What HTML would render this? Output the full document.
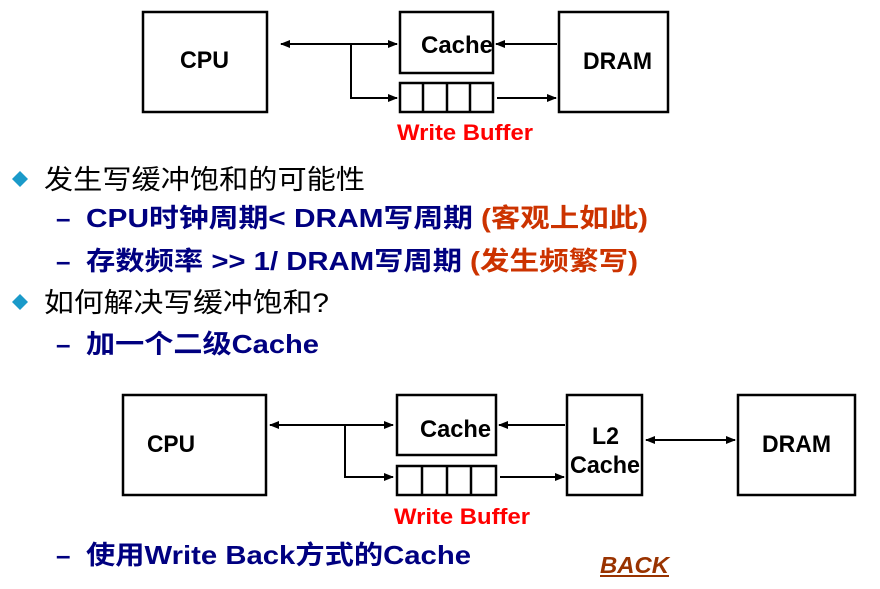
<!DOCTYPE html>
<html><head><meta charset="utf-8"><style>
html,body{margin:0;padding:0;background:#fff;}
svg{display:block;}
text{font-family:"Liberation Sans","Noto Sans CJK SC",sans-serif;}
</style></head><body>
<svg width="880" height="589" viewBox="0 0 880 589" xmlns="http://www.w3.org/2000/svg">
<defs>
<marker id="a" markerWidth="10" markerHeight="8" refX="9" refY="4" orient="auto-start-reverse" markerUnits="userSpaceOnUse">
<path d="M0,0 L10,4 L0,8 Z" fill="#000"/></marker>
</defs>
<g fill="none" stroke="#000" stroke-width="2.5">
<rect x="143" y="12" width="124" height="100"/>
<rect x="400" y="12" width="93" height="61"/>
<rect x="400" y="83" width="93" height="29"/>
<line x1="423" y1="83" x2="423" y2="112"/><line x1="447" y1="83" x2="447" y2="112"/><line x1="470" y1="83" x2="470" y2="112"/>
<rect x="559" y="12" width="109" height="100"/>
<line x1="281" y1="44" x2="397" y2="44" marker-start="url(#a)" marker-end="url(#a)" stroke-width="2"/>
<polyline points="351,44 351,98 397,98" marker-end="url(#a)" stroke-width="2"/>
<line x1="557" y1="44" x2="496" y2="44" marker-end="url(#a)" stroke-width="2"/>
<line x1="497" y1="98" x2="556" y2="98" marker-end="url(#a)" stroke-width="2"/>
<rect x="123" y="395" width="143" height="100"/>
<rect x="397" y="395" width="99" height="60"/>
<rect x="397" y="466" width="99" height="29"/>
<line x1="422" y1="466" x2="422" y2="495"/><line x1="447" y1="466" x2="447" y2="495"/><line x1="471" y1="466" x2="471" y2="495"/>
<rect x="567" y="395" width="75" height="100"/>
<rect x="738" y="395" width="117" height="100"/>
<line x1="270" y1="425" x2="393" y2="425" marker-start="url(#a)" marker-end="url(#a)" stroke-width="2"/>
<polyline points="345,425 345,477 393,477" marker-end="url(#a)" stroke-width="2"/>
<line x1="565" y1="425" x2="499" y2="425" marker-end="url(#a)" stroke-width="2"/>
<line x1="500" y1="477" x2="564" y2="477" marker-end="url(#a)" stroke-width="2"/>
<line x1="646" y1="440" x2="735" y2="440" marker-start="url(#a)" marker-end="url(#a)" stroke-width="2"/>
</g>
<g font-weight="bold" font-size="24" fill="#000" lengthAdjust="spacingAndGlyphs">
<text x="180" y="68" textLength="49" lengthAdjust="spacingAndGlyphs">CPU</text>
<text x="421" y="53" textLength="72" lengthAdjust="spacingAndGlyphs">Cache</text>
<text x="583" y="69" textLength="69" lengthAdjust="spacingAndGlyphs">DRAM</text>
<text x="147" y="452" textLength="48" lengthAdjust="spacingAndGlyphs">CPU</text>
<text x="420" y="437" textLength="71" lengthAdjust="spacingAndGlyphs">Cache</text>
<text x="592" y="444" textLength="27" lengthAdjust="spacingAndGlyphs">L2</text>
<text x="570" y="473" textLength="70" lengthAdjust="spacingAndGlyphs">Cache</text>
<text x="762" y="452" textLength="69" lengthAdjust="spacingAndGlyphs">DRAM</text>
</g>
<g font-weight="bold" font-size="22" fill="#f00">
<text x="397" y="140" textLength="136" lengthAdjust="spacingAndGlyphs">Write Buffer</text>
<text x="394" y="524" textLength="136" lengthAdjust="spacingAndGlyphs">Write Buffer</text>
</g>
<path d="M12,179 L20,171 L28,179 L20,187 Z" fill="#1a9ac9"/>
<path d="M12,302 L20,294 L28,302 L20,310 Z" fill="#1a9ac9"/>
<g font-size="27" fill="#000">
<text x="44" y="189" textLength="321" lengthAdjust="spacingAndGlyphs">发生写缓冲饱和的可能性</text>
<text x="44" y="312" textLength="285" lengthAdjust="spacingAndGlyphs">如何解决写缓冲饱和?</text>
</g>
<g font-size="26" font-weight="bold" fill="#000080">
<text x="56" y="227">–</text>
<text x="86" y="227" textLength="387" lengthAdjust="spacingAndGlyphs">CPU时钟周期&lt;  DRAM写周期</text>
<text x="481" y="227" fill="#cc3300" textLength="167" lengthAdjust="spacingAndGlyphs">(客观上如此)</text>
<text x="56" y="270">–</text>
<text x="86" y="270" textLength="376" lengthAdjust="spacingAndGlyphs">存数频率 &gt;&gt; 1/ DRAM写周期</text>
<text x="470" y="270" fill="#cc3300" textLength="168" lengthAdjust="spacingAndGlyphs">(发生频繁写)</text>
<text x="56" y="353">–</text>
<text x="86" y="353" textLength="233" lengthAdjust="spacingAndGlyphs">加一个二级Cache</text>
<text x="56" y="564">–</text>
<text x="86" y="564" textLength="385" lengthAdjust="spacingAndGlyphs">使用Write Back方式的Cache</text>
</g>
<text x="600" y="573" font-size="23" font-weight="bold" font-style="italic" fill="#993300" textLength="69" lengthAdjust="spacingAndGlyphs">BACK</text>
<line x1="600" y1="576" x2="669" y2="576" stroke="#993300" stroke-width="2"/>
</svg>
</body></html>
